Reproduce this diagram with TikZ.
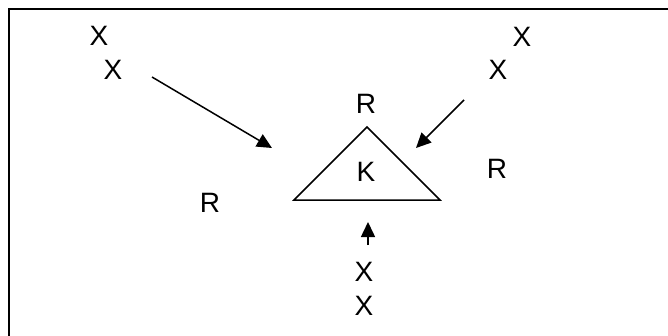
\documentclass[tikz,border=0pt]{standalone}
\usepackage{fontspec}
\setmainfont{Liberation Sans}
\usetikzlibrary{arrows.meta}

\begin{document}
\begin{tikzpicture}[x=1pt, y=-1pt, font=\fontsize{28}{33}\selectfont, >={Triangle[length=15pt,width=14pt]}, line width=1.5pt]
    \useasboundingbox (0,0) rectangle (668,335);
    \draw[line width=2.5pt] (9,336) -- (9,9) -- (669,9);
    % triangle with the K inside
    \coordinate (apex) at (367,127);
    \coordinate (baseL) at (294,200);
    \coordinate (baseR) at (440,200);
    \draw (baseL) -- (apex) -- (baseR) -- cycle;
    \node[inner sep=0] (k) at (366,172) {K};
    % the R labels
    \node[inner sep=0] (rtop) at (366,104) {R};
    \node[inner sep=0] (rright) at (497,169) {R};
    \node[inner sep=0] (rleft) at (210,203) {R};
    % the X pairs
    \node[inner sep=0] (xa) at (99,36) {X};
    \node[inner sep=0] (xb) at (113,70) {X};
    \node[inner sep=0] (xc) at (522,37) {X};
    \node[inner sep=0] (xd) at (498,70) {X};
    \node[inner sep=0] (xe) at (364,272) {X};
    \node[inner sep=0] (xf) at (364,306) {X};
    % arrows into the triangle
    \coordinate (la) at (152,77);
    \coordinate (lb) at (272,148);
    \coordinate (ra) at (464,100);
    \coordinate (rb) at (416,148);
    \coordinate (ba) at (368,245);
    \coordinate (bb) at (368,222);
    \draw[->] (la) -- (lb);
    \draw[->] (ra) -- (rb);
    \draw[->] (ba) -- (bb);
\end{tikzpicture}
\end{document}
